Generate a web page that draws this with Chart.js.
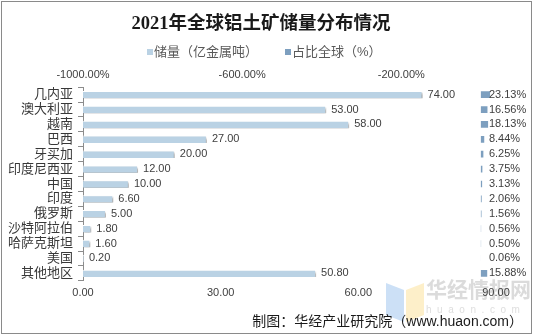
<!DOCTYPE html>
<html><head><meta charset="utf-8">
<script src="https://cdn.jsdelivr.net/npm/chart.js@4"></script>
<style>html,body{margin:0;padding:0;background:#fff}#wrap{width:533px;height:336px;position:relative}</style>
</head><body><div id="wrap"><canvas id="c" width="533" height="336"></canvas></div>
<script>
const categories = ['几内亚','澳大利亚','越南','巴西','牙买加','印度尼西亚','中国','印度','俄罗斯','沙特阿拉伯','哈萨克斯坦','美国','其他地区'];
const reserves = [74, 53, 58, 27, 20, 12, 10, 6.6, 5, 1.8, 1.6, 0.2, 50.8];
const shares = [23.13, 16.56, 18.13, 8.44, 6.25, 3.75, 3.13, 2.06, 1.56, 0.56, 0.50, 0.06, 15.88];
const bottomTicks = [0, 30, 60, 90];
const topTicks = [-1000, -600, -200];
const seriesNames = ['储量（亿金属吨）', '占比全球（%）'];
const seriesColors = ['#bad2e4', '#7d9fbf'];
const titleText = '2021年全球铝土矿储量分布情况';
const footerText = '制图：华经产业研究院（www.huaon.com）';

const SANS = "'Liberation Sans','Noto Sans CJK SC',sans-serif";

const shadowPlugin = {
  id: 'shadow',
  beforeDatasetDraw(chart, args) {
    if (args.index === 0) {
      const ctx = chart.ctx; ctx.save();
      ctx.shadowColor = 'rgba(0,0,0,0.4)';
      ctx.shadowOffsetX = 1; ctx.shadowOffsetY = 2; ctx.shadowBlur = 2;
    }
  },
  afterDatasetDraw(chart, args) {
    if (args.index === 0) chart.ctx.restore();
  }
};

const labelPlugin = {
  id: 'vlabels',
  afterDatasetsDraw(chart) {
    const ctx = chart.ctx;
    ctx.save();
    ctx.font = '11px ' + SANS;
    ctx.fillStyle = '#404040';
    ctx.textBaseline = 'middle';
    ctx.textAlign = 'left';
    const m0 = chart.getDatasetMeta(0);
    m0.data.forEach((el, i) => {
      ctx.fillText(reserves[i].toFixed(2), el.x + 5, el.y);
    });
    const m1 = chart.getDatasetMeta(1);
    const zero = chart.scales.x2.getPixelForValue(0);
    m1.data.forEach((el, i) => {
      const x = Math.max(el.x - 2, zero + 8);
      ctx.fillText(shares[i].toFixed(2) + '%', x, el.y);
    });
    ctx.restore();
  }
};

const decoPlugin = {
  id: 'deco',
  beforeDraw(chart) {
    const ctx = chart.ctx;
    ctx.save();
    // faint watermark
    ctx.fillStyle = 'rgba(110,165,230,0.35)';
    ctx.beginPath(); ctx.moveTo(386,283); ctx.lineTo(404,290); ctx.lineTo(404,322); ctx.lineTo(386,315); ctx.closePath(); ctx.fill();
    ctx.fillStyle = 'rgba(250,215,120,0.4)';
    ctx.beginPath(); ctx.moveTo(406,290); ctx.lineTo(424,283); ctx.lineTo(424,315); ctx.lineTo(406,322); ctx.closePath(); ctx.fill();
    ctx.fillStyle = 'rgba(190,190,190,0.55)';
    ctx.font = 'bold 21px ' + SANS;
    ctx.textBaseline = 'middle';
    ctx.fillText('华经情报网', 426, 291);
    ctx.font = '10px ' + SANS;
    ctx.fillStyle = 'rgba(200,200,200,0.6)';
    ctx.fillText('h  u  a  o  n  .  c  o  m', 426, 310);
    ctx.restore();
  },
  afterDraw(chart) {
    const ctx = chart.ctx;
    ctx.save();
    // title
    ctx.textBaseline = 'middle';
    ctx.textAlign = 'center';
    ctx.fillStyle = '#1a1a1a';
    ctx.font = "bold 18.5px 'Liberation Serif','Noto Sans CJK SC',serif";
    ctx.fillText(titleText, 261, 24);
    // legend
    ctx.textAlign = 'left';
    ctx.font = '13px ' + SANS;
    const legendX = [147, 285];
    seriesNames.forEach((n, i) => {
      ctx.fillStyle = seriesColors[i];
      ctx.fillRect(legendX[i], 49, 6, 6);
      ctx.fillStyle = '#595959';
      ctx.fillText(n, legendX[i] + 7, 52.5);
    });
    // footer
    ctx.textAlign = 'right';
    ctx.fillStyle = '#1a1a1a';
    ctx.font = '14px ' + SANS;
    ctx.fillText(footerText, 523, 322);
    // outer border
    ctx.strokeStyle = '#8a8a8a';
    ctx.lineWidth = 1;
    ctx.strokeRect(1.5, 1.5, 530, 332);
    ctx.restore();
  }
};

new Chart(document.getElementById('c'), {
  type: 'bar',
  data: {
    labels: categories,
    datasets: [
      { label: seriesNames[0], data: reserves, xAxisID: 'x', yAxisID: 'y',
        backgroundColor: seriesColors[0], borderColor: '#ffffff', borderWidth: {top: 1, left: 0, right: 1, bottom: 0},
        barPercentage: 0.5, categoryPercentage: 1, grouped: false, borderSkipped: 'start' },
      { label: seriesNames[1], data: shares, xAxisID: 'x2', yAxisID: 'y',
        backgroundColor: seriesColors[1], borderWidth: 0,
        barPercentage: 0.45, categoryPercentage: 1, grouped: false }
    ]
  },
  options: {
    responsive: false,
    animation: false,
    devicePixelRatio: 1,
    indexAxis: 'y',
    layout: { padding: { left: 6, right: 37, top: 62, bottom: 30 } },
    plugins: {
      title: { display: false },
      legend: { display: false },
      tooltip: { enabled: false }
    },
    scales: {
      x: { type: 'linear', position: 'bottom', min: 0, max: 90,
        afterBuildTicks: s => { s.ticks = bottomTicks.map(v => ({ value: v })); },
        ticks: { callback: v => Number(v).toFixed(2), color: '#404040', font: { size: 11, family: SANS }, padding: 6, maxRotation: 0 },
        grid: { display: false, drawTicks: false }, border: { display: false } },
      x2: { type: 'linear', position: 'top', min: -1000, max: 38,
        afterBuildTicks: s => { s.ticks = topTicks.map(v => ({ value: v })); },
        ticks: { callback: v => Number(v).toFixed(2) + '%', color: '#404040', font: { size: 11, family: SANS }, padding: 6, maxRotation: 0 },
        grid: { display: false, drawTicks: false }, border: { display: false } },
      y: { type: 'category', position: 'left',
        grid: { display: true, drawOnChartArea: false, tickLength: 5, color: '#8c8c8c', offset: true },
        border: { display: true, color: '#8c8c8c' },
        ticks: { color: '#383838', font: { size: 13, family: SANS }, padding: 5, autoSkip: false },
        afterFit: s => { s.width = 77; } }
    }
  },
  plugins: [shadowPlugin, labelPlugin, decoPlugin]
});
</script></body></html>
